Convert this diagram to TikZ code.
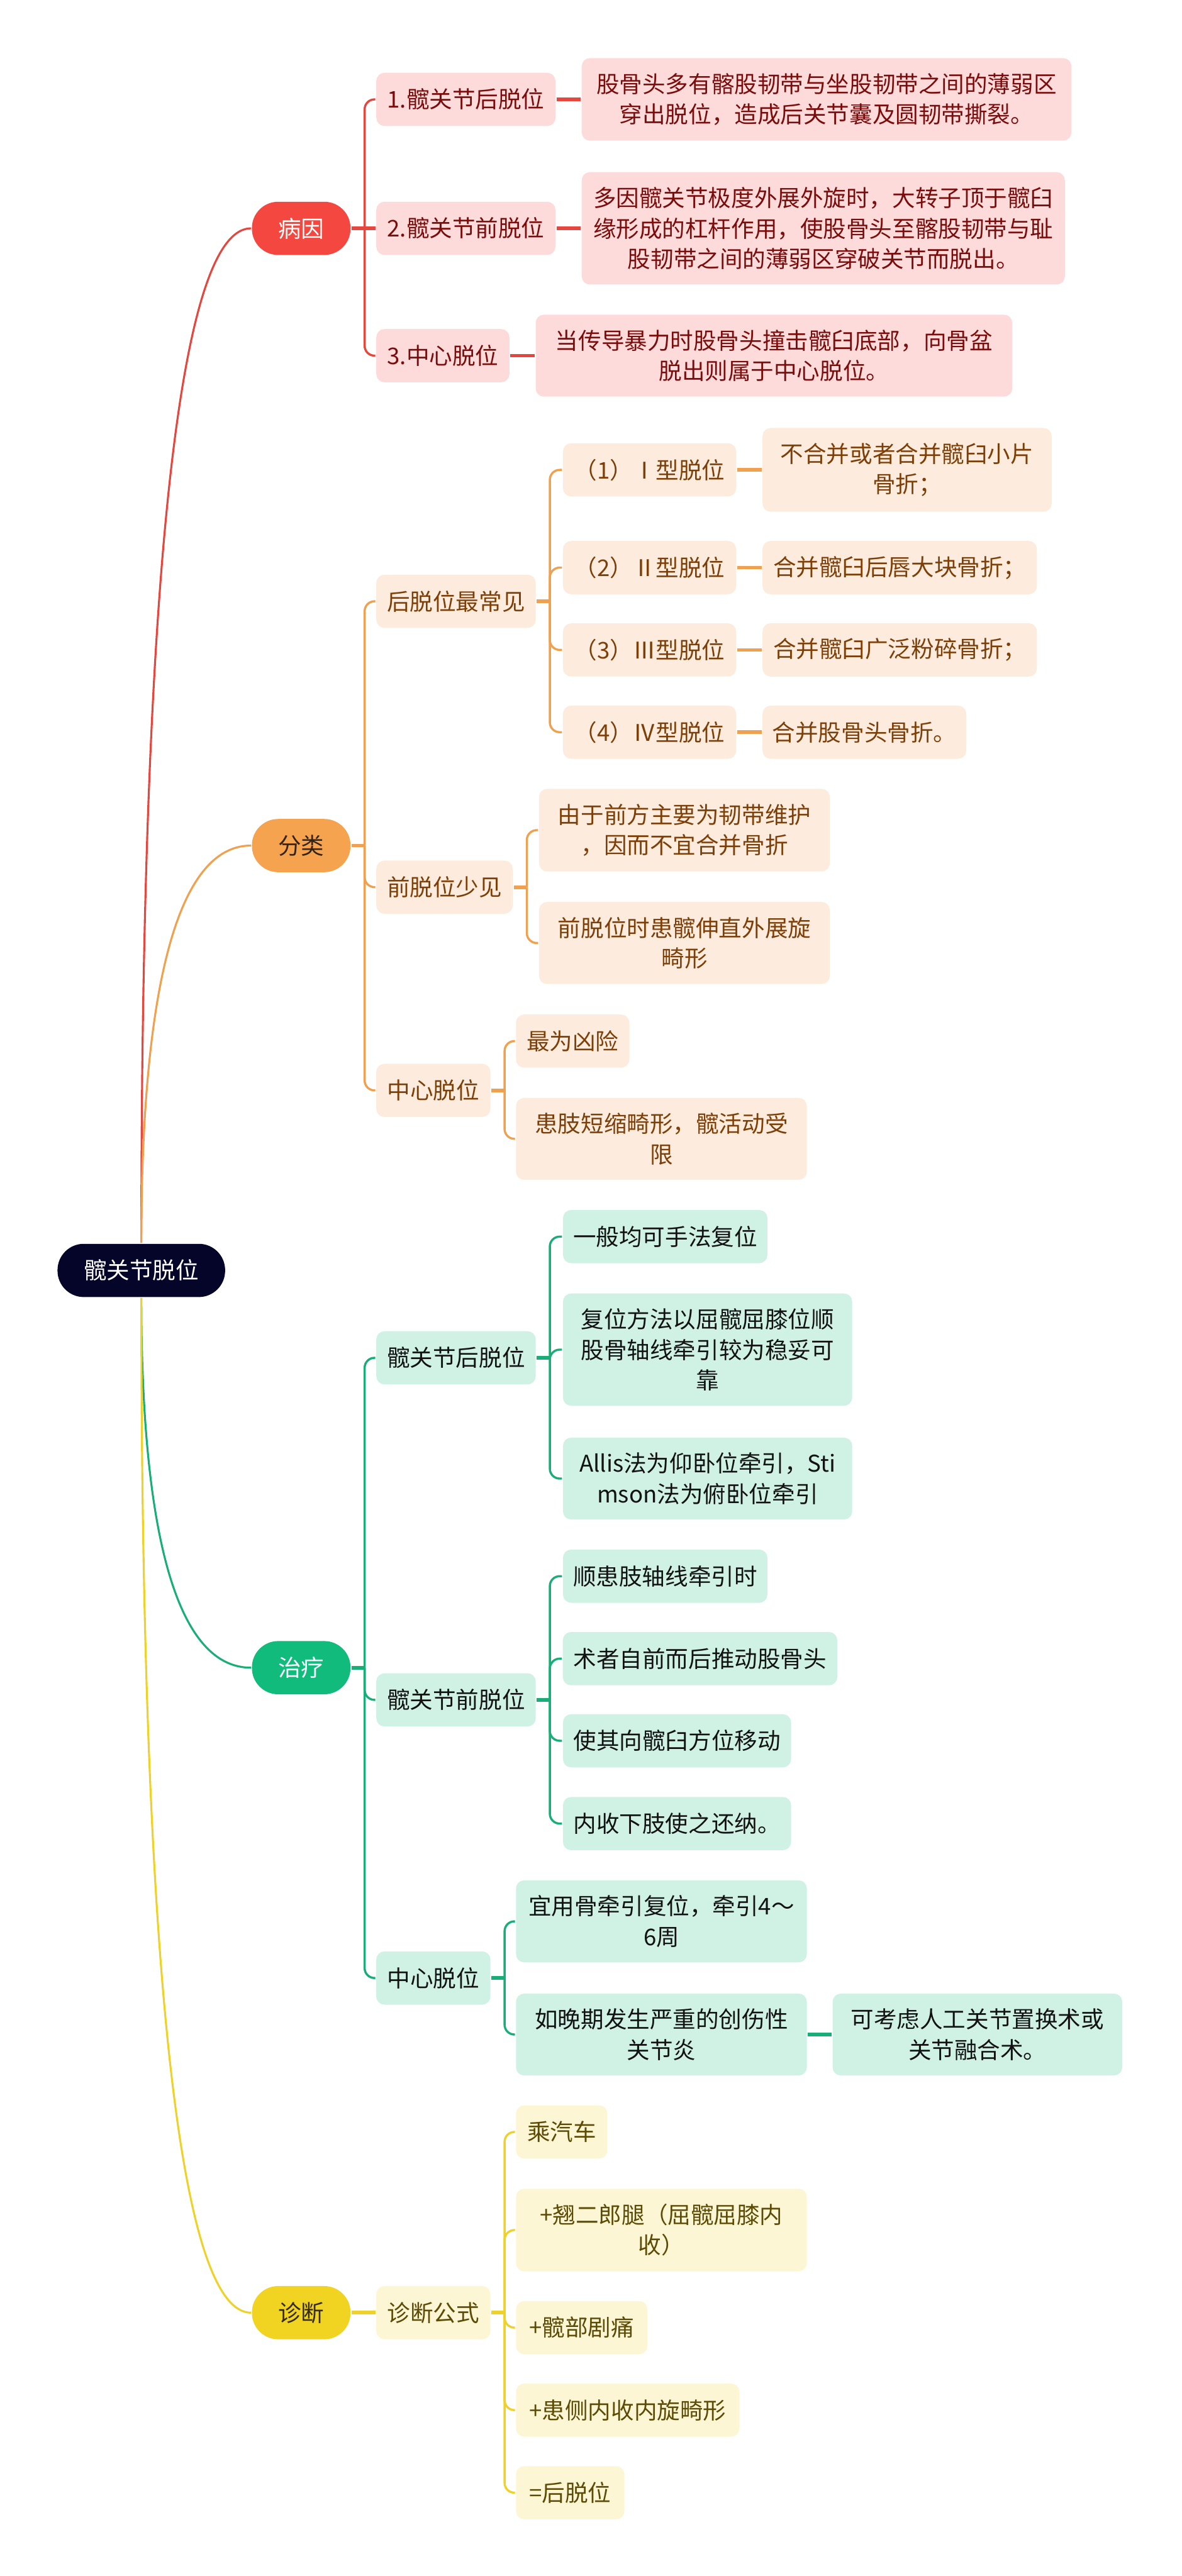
\documentclass[tikz,border=0pt]{standalone}
\usepackage{fontspec}
\newfontfamily\cjk{Noto Sans CJK SC}
\usetikzlibrary{calc}

\tikzset{every picture/.style={line width=1.2pt}}
\tikzset{
  box/.style={font=\cjk\fontsize{14}{18.5}\selectfont, align=center, inner xsep=3pt, inner ysep=9.2pt, minimum height=32.4pt},
  rootbox/.style={box, rounded corners=16pt, fill={rgb, 255:red, 4; green, 5; blue, 40}, text=white},
  pillbox/.style={box, rounded corners=16pt, minimum width=60pt},
  leafbox/.style={box, rounded corners=5pt},
  causebox/.style={leafbox, fill={rgb, 255:red, 253; green, 219; blue, 219}, text={rgb, 255:red, 123; green, 12; blue, 12}},
  kindbox/.style={leafbox, fill={rgb, 255:red, 253; green, 236; blue, 221}, text={rgb, 255:red, 125; green, 63; blue, 8}},
  treatbox/.style={leafbox, fill={rgb, 255:red, 207; green, 242; blue, 228}, text={rgb, 255:red, 18; green, 18; blue, 18}},
  diagbox/.style={leafbox, fill={rgb, 255:red, 252; green, 246; blue, 212}, text={rgb, 255:red, 92; green, 75; blue, 4}},
  causeline/.style={draw={rgb, 255:red, 229; green, 71; blue, 63}},
  kindline/.style={draw={rgb, 255:red, 240; green, 161; blue, 80}},
  treatline/.style={draw={rgb, 255:red, 25; green, 173; blue, 119}},
  diagline/.style={draw={rgb, 255:red, 239; green, 210; blue, 41}},
  stub/.style={line width=2.2pt},
  trunk/.style={line width=1.3pt, rounded corners=6pt},
}

\begin{document}
\begin{tikzpicture}[x=1pt,y=1pt,yscale=-1,xscale=1]
\useasboundingbox (0,0) rectangle (719,1568);

% Text Node
\node (root) at (86,773.3) [rootbox, minimum width=102pt] {髋关节脱位};

% Text Node
\node (cause) at (183.3,139) [pillbox, fill={rgb, 255:red, 244; green, 71; blue, 63}, text=white] {病因};
% Text Node
\node (kind) at (183.3,514.7) [pillbox, fill={rgb, 255:red, 245; green, 163; blue, 78}, text={rgb, 255:red, 50; green, 35; blue, 20}] {分类};
% Text Node
\node (treat) at (183.3,1015.1) [pillbox, fill={rgb, 255:red, 16; green, 187; blue, 124}, text=white] {治疗};
% Text Node
\node (diag) at (183.3,1407.7) [pillbox, fill={rgb, 255:red, 241; green, 211; blue, 33}, text={rgb, 255:red, 50; green, 42; blue, 10}] {诊断};

%Curve Lines
\draw [causeline] (root.north) .. controls +(0,-309) and +(-53,0) .. (cause.west);
%Curve Lines
\draw [kindline] (root.north) .. controls +(0,-121) and +(-53,0) .. (kind.west);
%Curve Lines
\draw [treatline] (root.south) .. controls +(0,113) and +(-53,0) .. (treat.west);
%Curve Lines
\draw [diagline] (root.south) .. controls +(0,309) and +(-53,0) .. (diag.west);

%----- 病因
% Text Node
\node (cau1) at (283.5,60.5) [causebox, minimum width=109pt] {1.髋关节后脱位};
% Text Node
\node (cau1d) at (503,60.5) [causebox, minimum width=298pt] {股骨头多有髂股韧带与坐股韧带之间的薄弱区\\穿出脱位，造成后关节囊及圆韧带撕裂。};
% Text Node
\node (cau2) at (283.5,139) [causebox, minimum width=109pt] {2.髋关节前脱位};
% Text Node
\node (cau2d) at (501,139) [causebox, minimum width=294pt] {多因髋关节极度外展外旋时，大转子顶于髋臼\\缘形成的杠杆作用，使股骨头至髂股韧带与耻\\股韧带之间的薄弱区穿破关节而脱出。};
% Text Node
\node (cau3) at (269.5,216.5) [causebox, minimum width=81pt] {3.中心脱位};
% Text Node
\node (cau3d) at (471,216.5) [causebox, minimum width=290pt] {当传导暴力时股骨头撞击髋臼底部，向骨盆\\脱出则属于中心脱位。};

\coordinate (causej) at ([xshift=8pt]cause.east);
%Straight Lines
\draw [causeline, stub] (cause.east) -- (causej);
\draw [causeline, trunk] (causej) |- (cau1.west);
\draw [causeline, stub] (causej) -- (cau2.west);
\draw [causeline, trunk] (causej) |- (cau3.west);
\draw [causeline, stub] (cau1.east) -- (cau1d.west);
\draw [causeline, stub] (cau2.east) -- (cau2d.west);
\draw [causeline, stub] (cau3.east) -- (cau3d.west);

%----- 分类
% Text Node
\node (kin1) at (277.5,366) [kindbox, minimum width=97pt] {后脱位最常见};
% Text Node
\node (kin11) at (395.3,286) [kindbox, minimum width=105.4pt] {（1）Ⅰ型脱位};
% Text Node
\node (kin11d) at (552,286) [kindbox, minimum width=176pt] {不合并或者合并髋臼小片\\骨折；};
% Text Node
\node (kin12) at (395.3,345.5) [kindbox, minimum width=105.4pt] {（2）Ⅱ型脱位};
% Text Node
\node (kin12d) at (547.5,345.5) [kindbox, minimum width=167pt] {合并髋臼后唇大块骨折；};
% Text Node
\node (kin13) at (395.3,395.6) [kindbox, minimum width=105.4pt] {（3）Ⅲ型脱位};
% Text Node
\node (kin13d) at (547.5,395.6) [kindbox, minimum width=167pt] {合并髋臼广泛粉碎骨折；};
% Text Node
\node (kin14) at (395.3,445.7) [kindbox, minimum width=105.4pt] {（4）Ⅳ型脱位};
% Text Node
\node (kin14d) at (526,445.7) [kindbox, minimum width=124pt] {合并股骨头骨折。};
% Text Node
\node (kin2) at (270.5,540) [kindbox, minimum width=83pt] {前脱位少见};
% Text Node
\node (kin21) at (416.5,505.3) [kindbox, minimum width=177pt] {由于前方主要为韧带维护\\，因而不宜合并骨折};
% Text Node
\node (kin22) at (416.5,574) [kindbox, minimum width=177pt] {前脱位时患髋伸直外展旋\\畸形};
% Text Node
\node (kin3) at (263.7,663.7) [kindbox, minimum width=69.5pt] {中心脱位};
% Text Node
\node (kin31) at (348.5,633.7) [kindbox, minimum width=69pt] {最为凶险};
% Text Node
\node (kin32) at (402.5,693.2) [kindbox, minimum width=177pt] {患肢短缩畸形，髋活动受\\限};

\coordinate (kindj) at ([xshift=8pt]kind.east);
\coordinate (kin1j) at ([xshift=8pt]kin1.east);
\coordinate (kin2j) at ([xshift=8pt]kin2.east);
\coordinate (kin3j) at ([xshift=8pt]kin3.east);
%Straight Lines
\draw [kindline, stub] (kind.east) -- (kindj);
\draw [kindline, trunk] (kindj) |- (kin1.west);
\draw [kindline, trunk] (kindj) |- (kin2.west);
\draw [kindline, trunk] (kindj) |- (kin3.west);
\draw [kindline, stub] (kin1.east) -- (kin1j);
\draw [kindline, trunk] (kin1j) |- (kin11.west);
\draw [kindline, trunk] (kin1j) |- (kin12.west);
\draw [kindline, trunk] (kin1j) |- (kin13.west);
\draw [kindline, trunk] (kin1j) |- (kin14.west);
\draw [kindline, stub] (kin11.east) -- (kin11d.west);
\draw [kindline, stub] (kin12.east) -- (kin12d.west);
\draw [kindline, stub] (kin13.east) -- (kin13d.west);
\draw [kindline, stub] (kin14.east) -- (kin14d.west);
\draw [kindline, stub] (kin2.east) -- (kin2j);
\draw [kindline, trunk] (kin2j) |- (kin21.west);
\draw [kindline, trunk] (kin2j) |- (kin22.west);
\draw [kindline, stub] (kin3.east) -- (kin3j);
\draw [kindline, trunk] (kin3j) |- (kin31.west);
\draw [kindline, trunk] (kin3j) |- (kin32.west);

%----- 治疗
% Text Node
\node (tre1) at (277.5,826.5) [treatbox, minimum width=97pt] {髋关节后脱位};
% Text Node
\node (tre11) at (404.8,752.7) [treatbox, minimum width=124.4pt] {一般均可手法复位};
% Text Node
\node (tre12) at (430.6,821.5) [treatbox, minimum width=176pt] {复位方法以屈髋屈膝位顺\\股骨轴线牵引较为稳妥可\\靠};
% Text Node
\node (tre13) at (430.6,900) [treatbox, minimum width=176pt] {Allis法为仰卧位牵引，Sti\\mson法为俯卧位牵引};
% Text Node
\node (tre2) at (277.5,1034.7) [treatbox, minimum width=97pt] {髋关节前脱位};
% Text Node
\node (tre21) at (404.8,959.4) [treatbox, minimum width=124.4pt] {顺患肢轴线牵引时};
% Text Node
\node (tre22) at (426,1009.6) [treatbox, minimum width=167pt] {术者自前而后推动股骨头};
% Text Node
\node (tre23) at (412,1059.6) [treatbox, minimum width=138.8pt] {使其向髋臼方位移动};
% Text Node
\node (tre24) at (412,1110) [treatbox, minimum width=138.8pt] {内收下肢使之还纳。};
% Text Node
\node (tre3) at (263.7,1204) [treatbox, minimum width=69.5pt] {中心脱位};
% Text Node
\node (tre31) at (402.5,1169.5) [treatbox, minimum width=177pt] {宜用骨牵引复位，牵引4～\\6周};
% Text Node
\node (tre32) at (402.5,1238.4) [treatbox, minimum width=177pt] {如晚期发生严重的创伤性\\关节炎};
% Text Node
\node (tre32d) at (594.8,1238.4) [treatbox, minimum width=176.3pt] {可考虑人工关节置换术或\\关节融合术。};

\coordinate (treatj) at ([xshift=8pt]treat.east);
\coordinate (tre1j) at ([xshift=8pt]tre1.east);
\coordinate (tre2j) at ([xshift=8pt]tre2.east);
\coordinate (tre3j) at ([xshift=8pt]tre3.east);
%Straight Lines
\draw [treatline, stub] (treat.east) -- (treatj);
\draw [treatline, trunk] (treatj) |- (tre1.west);
\draw [treatline, trunk] (treatj) |- (tre2.west);
\draw [treatline, trunk] (treatj) |- (tre3.west);
\draw [treatline, stub] (tre1.east) -- (tre1j);
\draw [treatline, trunk] (tre1j) |- (tre11.west);
\draw [treatline, trunk] (tre1j) |- (tre12.west);
\draw [treatline, trunk] (tre1j) |- (tre13.west);
\draw [treatline, stub] (tre2.east) -- (tre2j);
\draw [treatline, trunk] (tre2j) |- (tre21.west);
\draw [treatline, trunk] (tre2j) |- (tre22.west);
\draw [treatline, trunk] (tre2j) |- (tre23.west);
\draw [treatline, trunk] (tre2j) |- (tre24.west);
\draw [treatline, stub] (tre3.east) -- (tre3j);
\draw [treatline, trunk] (tre3j) |- (tre31.west);
\draw [treatline, trunk] (tre3j) |- (tre32.west);
\draw [treatline, stub] (tre32.east) -- (tre32d.west);

%----- 诊断
% Text Node
\node (dia1) at (263.7,1407.7) [diagbox, minimum width=69.5pt] {诊断公式};
% Text Node
\node (dia11) at (341.8,1297.7) [diagbox, minimum width=55.6pt] {乘汽车};
% Text Node
\node (dia12) at (402.5,1357.4) [diagbox, minimum width=177pt] {+翘二郎腿（屈髋屈膝内\\收）};
% Text Node
\node (dia13) at (354,1416.8) [diagbox, minimum width=80pt] {+髋部剧痛};
% Text Node
\node (dia14) at (382,1467) [diagbox, minimum width=136pt] {+患侧内收内旋畸形};
% Text Node
\node (dia15) at (347,1517.3) [diagbox, minimum width=66pt] {=后脱位};

\coordinate (dia1j) at ([xshift=8pt]dia1.east);
%Straight Lines
\draw [diagline, stub] (diag.east) -- (dia1.west);
\draw [diagline, stub] (dia1.east) -- (dia1j);
\draw [diagline, trunk] (dia1j) |- (dia11.west);
\draw [diagline, trunk] (dia1j) |- (dia12.west);
\draw [diagline, trunk] (dia1j) |- (dia13.west);
\draw [diagline, trunk] (dia1j) |- (dia14.west);
\draw [diagline, trunk] (dia1j) |- (dia15.west);

\end{tikzpicture}
\end{document}
